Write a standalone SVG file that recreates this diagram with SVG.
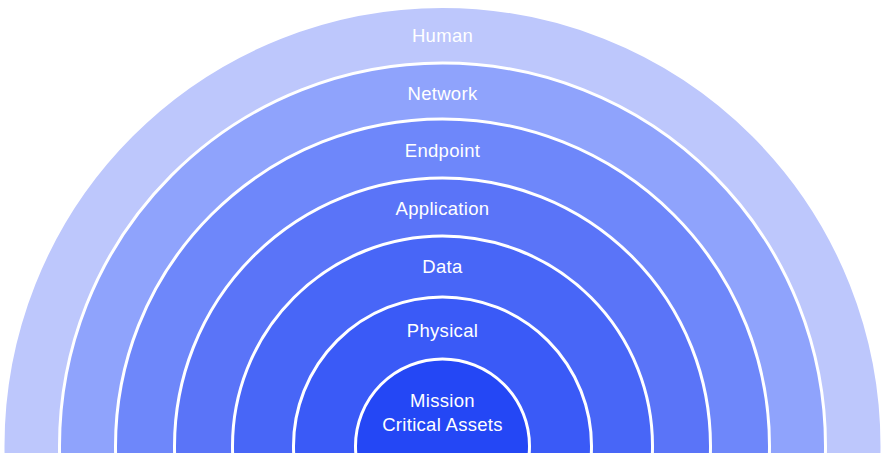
<svg xmlns="http://www.w3.org/2000/svg" width="887" height="460" viewBox="0 0 887 460">
  <defs>
    <clipPath id="clip">
      <rect x="0" y="0" width="887" height="453"/>
    </clipPath>
  </defs>
  <style>
    .ring { stroke: #ffffff; stroke-width: 3; }
    .label { font-family: "Liberation Sans", Arial, sans-serif; font-size: 18.5px; letter-spacing: 0.3px; fill: #ffffff; text-anchor: middle; }
  </style>
  <rect width="887" height="460" fill="#ffffff"/>
  <g clip-path="url(#clip)">
    <g id="human"><circle class="ring" cx="442.5" cy="446" r="439.5" fill="#BDC7FC"/></g>
    <g id="network"><circle class="ring" cx="442.5" cy="446" r="383" fill="#8FA3FC"/></g>
    <g id="endpoint"><circle class="ring" cx="442.5" cy="446" r="327" fill="#6E87FA"/></g>
    <g id="application"><circle class="ring" cx="442.5" cy="446" r="268" fill="#5A74F8"/></g>
    <g id="data"><circle class="ring" cx="442.5" cy="446" r="210" fill="#4866F7"/></g>
    <g id="physical"><circle class="ring" cx="442.5" cy="446" r="149" fill="#3A5AF7"/></g>
    <g id="mission"><circle class="ring" cx="442.5" cy="446" r="87" fill="#2447F5"/></g>
  </g>
  <g id="labels">
    <text class="label" x="442.5" y="42">Human</text>
    <text class="label" x="442.5" y="99.5">Network</text>
    <text class="label" x="442.5" y="157">Endpoint</text>
    <text class="label" x="442.5" y="215">Application</text>
    <text class="label" x="442.5" y="273">Data</text>
    <text class="label" x="442.5" y="336.5">Physical</text>
    <text class="label" x="442.5" y="406.5">Mission</text>
    <text class="label" x="442.5" y="430.5">Critical Assets</text>
  </g>
  <g id="connectors"/>
</svg>
